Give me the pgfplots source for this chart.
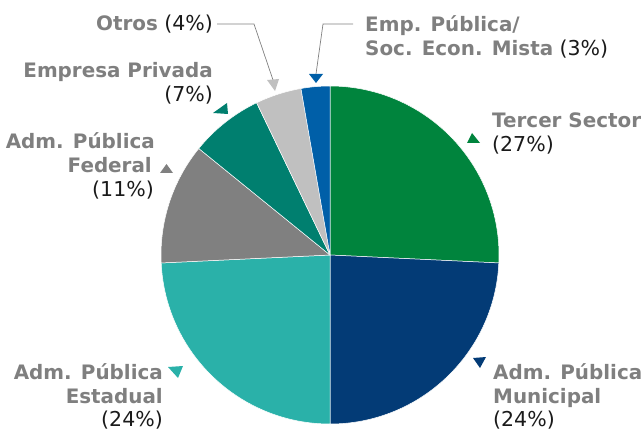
\documentclass[border=0pt]{standalone}
\usepackage{pgfplots}
\pgfplotsset{compat=1.18}
\usepackage{pgfplotstable}
\usepackage{fontspec}
\setmainfont{DejaVu Sans}
\definecolor{cGreen}{HTML}{00843D}
\definecolor{cNavy}{HTML}{033B76}
\definecolor{cTeal}{HTML}{2AB1A9}
\definecolor{cGray}{HTML}{808080}
\definecolor{cDTeal}{HTML}{007F6F}
\definecolor{cLGray}{HTML}{C0C0C0}
\definecolor{cBlue}{HTML}{005FA8}
\definecolor{lblGray}{HTML}{7F7F7F}
\definecolor{pctText}{HTML}{1A1A1A}
\newcommand\lbl{\fontsize{19.9}{24}\selectfont}
\newcommand\bl[1]{{\bfseries\color{lblGray}#1}}
\newcommand\pc[1]{{\color{pctText}\fontsize{20.5}{24}\selectfont#1}}

% slice shares (percent), clockwise from 12 o'clock
\pgfplotstableread[col sep=comma]{
value,color
25.75,cGreen
24.25,cNavy
24.25,cTeal
11.6,cGray
7.0,cDTeal
4.4,cLGray
2.75,cBlue
}\piedata
\pgfplotstablegetrowsof{\piedata}
\pgfmathtruncatemacro\nrows{\pgfplotsretval-1}

\begin{document}
\begin{tikzpicture}
\begin{axis}[
  width=644pt, height=431pt, scale only axis,
  xmin=0, xmax=644, ymin=0, ymax=431,
  hide axis, clip=false,
]
\path (axis cs:0,0) rectangle (axis cs:644,431);
\xdef\startang{90}
\foreach \i in {0,...,\nrows}{
  \pgfplotstablegetelem{\i}{value}\of\piedata \let\v\pgfplotsretval
  \pgfplotstablegetelem{\i}{color}\of\piedata \let\c\pgfplotsretval
  \pgfmathsetmacro\endang{\startang-3.6*\v}
  \edef\temp{\noexpand\fill[fill=\c, draw=white, line width=0.5pt, line join=round]
    (axis cs:330,176) -- ++(\startang:169pt)
    arc[start angle=\startang, end angle=\endang, radius=169pt] -- cycle;}
  \temp
  \xdef\startang{\endang}
}

% leader lines
\draw[cGray, line width=0.7pt] (axis cs:217,407) -- (axis cs:254,407) -- (axis cs:273,351);
\draw[cGray, line width=0.7pt] (axis cs:353,407) -- (axis cs:323,407) -- (axis cs:316,357);

% small triangles
\fill[cGreen] (axis cs:467,288) -- (axis cs:472,298) -- (axis cs:480,288) -- cycle;
\fill[cNavy] (axis cs:473,73) -- (axis cs:486,74) -- (axis cs:480,63) -- cycle;
\fill[cTeal] (axis cs:168,64) -- (axis cs:183,65) -- (axis cs:178,53) -- cycle;
\fill[cGray] (axis cs:160,258) -- (axis cs:173,258) -- (axis cs:166.5,267) -- cycle;
\fill[cDTeal] (axis cs:213,318) -- (axis cs:227,328) -- (axis cs:228,317) -- cycle;
\fill[cLGray] (axis cs:267,351) -- (axis cs:279,352) -- (axis cs:275,340) -- cycle;
\fill[cBlue] (axis cs:309,357) -- (axis cs:323,357) -- (axis cs:316,348) -- cycle;

% labels
\begin{scope}[every node/.style={inner sep=0pt, font=\lbl}]
\node[anchor=base east] at (axis cs:213,400) {\bl{Otros} \pc{(4\%)}};
\node[anchor=base west] at (axis cs:365,399) {\bl{Emp. Pública/}};
\node[anchor=base west] at (axis cs:365,375) {\bl{Soc. Econ. Mista} \pc{(3\%)}};
\node[anchor=base east] at (axis cs:213,353) {\bl{Empresa Privada}};
\node[anchor=base east] at (axis cs:213,329) {\pc{(7\%)}};
\node[anchor=base east] at (axis cs:155,282) {\bl{Adm. Pública}};
\node[anchor=base east] at (axis cs:152,258) {\bl{Federal}};
\node[anchor=base east] at (axis cs:154,234) {\pc{(11\%)}};
\node[anchor=base west] at (axis cs:492,303) {\bl{Tercer Sector}};
\node[anchor=base west] at (axis cs:492,279) {\pc{(27\%)}};
\node[anchor=base west] at (axis cs:493,52) {\bl{Adm. Pública}};
\node[anchor=base west] at (axis cs:493,28) {\bl{Municipal}};
\node[anchor=base west] at (axis cs:493,5) {\pc{(24\%)}};
\node[anchor=base east] at (axis cs:163,52) {\bl{Adm. Pública}};
\node[anchor=base east] at (axis cs:163,28) {\bl{Estadual}};
\node[anchor=base east] at (axis cs:163,5) {\pc{(24\%)}};
\end{scope}
\end{axis}
\end{tikzpicture}
\end{document}
